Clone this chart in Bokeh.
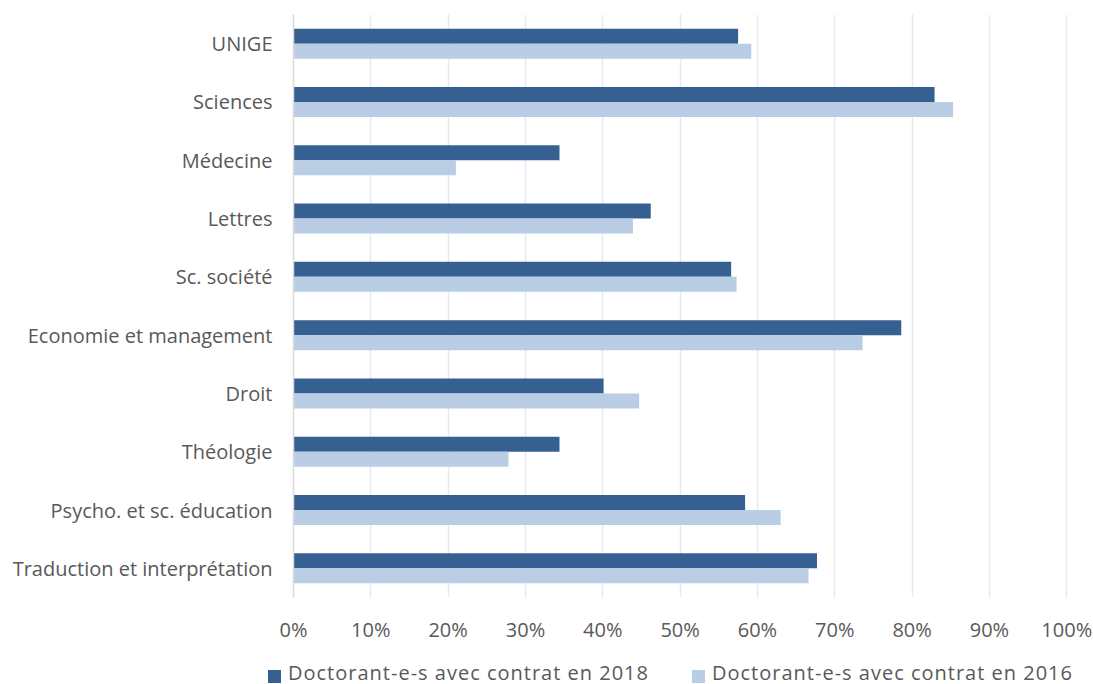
from bokeh.plotting import figure
from bokeh.layouts import column
from bokeh.models import FactorRange, Range1d, ColumnDataSource, FixedTicker, Div
from bokeh.transform import dodge
from bokeh.embed import file_html
from bokeh.resources import INLINE

categories = ["UNIGE", "Sciences", "Médecine", "Lettres", "Sc. société",
              "Economie et management", "Droit", "Théologie",
              "Psycho. et sc. éducation", "Traduction et interprétation"]
contrat_2018 = [57.5, 82.9, 34.4, 46.2, 56.6, 78.6, 40.1, 34.4, 58.4, 67.7]
contrat_2016 = [59.2, 85.3, 21.0, 43.9, 57.3, 73.6, 44.7, 27.8, 63.0, 66.6]
series_names = ["Doctorant-e-s avec contrat en 2018", "Doctorant-e-s avec contrat en 2016"]
tick_values = [0, 10, 20, 30, 40, 50, 60, 70, 80, 90, 100]
tick_labels = ["0%", "10%", "20%", "30%", "40%", "50%", "60%", "70%", "80%", "90%", "100%"]

DARK = "#366092"
LIGHT = "#B9CDE5"
TXT = "#595959"
FONT = "Open Sans"
FS = "20px"

source = ColumnDataSource(dict(cat=categories, v2018=contrat_2018, v2016=contrat_2016))

W = 1093
H_MAIN = 645
H_LEG = 39

p = figure(width=W, height=H_MAIN, output_backend="svg", toolbar_location=None,
           y_range=FactorRange(factors=list(reversed(categories))),
           x_range=Range1d(0, 101))
p.min_border_left = 293
p.min_border_right = W - 1074
p.min_border_top = 14
p.min_border_bottom = H_MAIN - 597
p.outline_line_color = None

bw = 0.257
r1 = p.hbar(y=dodge("cat", bw / 2, range=p.y_range), right="v2018", left=0, height=bw,
            source=source, fill_color=DARK, line_color=None)
r2 = p.hbar(y=dodge("cat", -bw / 2, range=p.y_range), right="v2016", left=0, height=bw,
            source=source, fill_color=LIGHT, line_color=None)

p.xaxis.ticker = FixedTicker(ticks=tick_values)
p.xaxis.major_label_overrides = {v: l for v, l in zip(tick_values, tick_labels)}
p.xaxis.axis_line_color = None
p.xaxis.major_tick_line_color = None
p.xaxis.minor_tick_line_color = None
p.xaxis.major_tick_out = 0
p.xaxis.major_tick_in = 0
p.xaxis.major_label_standoff = 18
p.xaxis.major_label_text_font = FONT
p.xaxis.major_label_text_font_size = FS
p.xaxis.major_label_text_color = TXT

p.yaxis.axis_line_color = "#D9D9D9"
p.yaxis.axis_line_width = 1.5
p.yaxis.major_tick_line_color = None
p.yaxis.major_tick_out = 0
p.yaxis.major_tick_in = 0
p.yaxis.major_label_standoff = 21
p.yaxis.major_label_text_font = FONT
p.yaxis.major_label_text_font_size = FS
p.yaxis.major_label_text_color = TXT

p.xgrid.grid_line_color = "#E4EAF3"
p.xgrid.grid_line_width = 1.5
p.ygrid.grid_line_color = None

# legend strip below the chart (HTML)
def item(left, color, name):
    return (f'<div style="position:absolute;left:{left}px;top:25px;width:13px;height:13px;'
            f'background:{color};"></div>'
            f'<div style="position:absolute;left:{left + 20}px;top:15px;white-space:nowrap;'
            f'font-family:\'{FONT}\';font-size:{FS};letter-spacing:1px;line-height:26px;'
            f'color:{TXT};">{name}</div>')

html = ('<div style="position:relative;width:%dpx;height:%dpx;">' % (W, H_LEG)
        + item(268, DARK, series_names[0]) + item(692, LIGHT, series_names[1]) + '</div>')
leg = Div(text=html, width=W, height=H_LEG, margin=0)

layout = column(p, leg, spacing=0)
open("out.html", "w").write(file_html(layout, INLINE))
